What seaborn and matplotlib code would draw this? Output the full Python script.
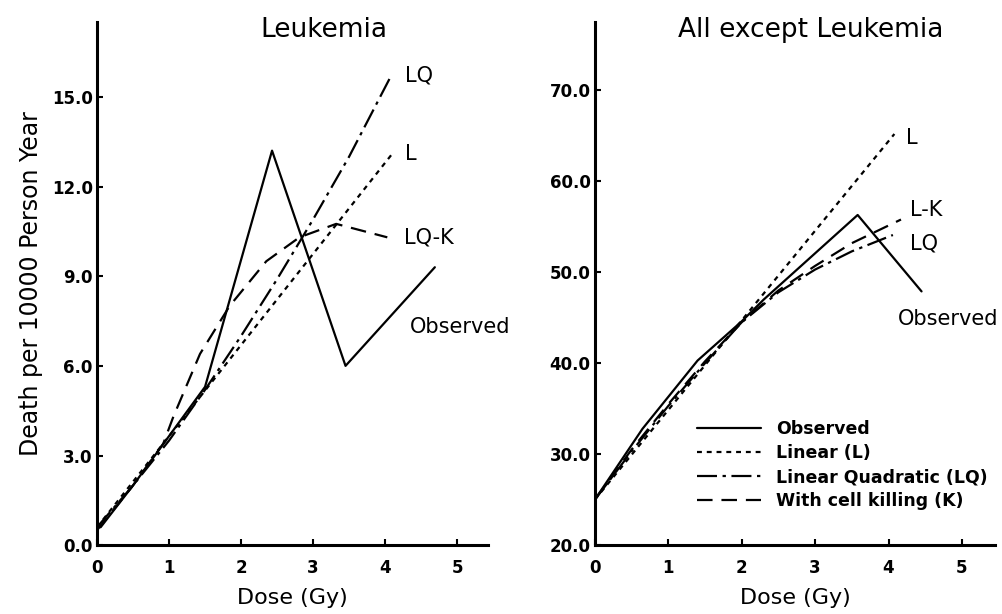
import seaborn as sns
import matplotlib.pyplot as plt
import pandas as pd
from matplotlib.ticker import FormatStrFormatter

# ---- Leukemia panel ----
leuk_obs_dose = [0.05, 0.5, 1.5, 2.43, 3.45, 4.69]
leuk_obs = [0.6, 2.0, 5.3, 13.2, 6.0, 9.3]
leuk_l_dose = [0.0, 4.1]
leuk_l = [0.6, 13.1]
leuk_lq_dose = [0.0, 0.5, 1.0, 1.5, 2.0, 2.5, 3.0, 3.5, 4.06]
leuk_lq = [0.6, 2.0, 3.5, 5.2, 7.0, 8.9, 10.9, 13.0, 15.6]
leuk_k_dose = [0.0, 0.5, 0.92, 1.06, 1.43, 1.84, 2.35, 2.81, 3.32, 4.03]
leuk_k = [0.5, 2.0, 3.4, 4.3, 6.4, 8.0, 9.5, 10.3, 10.75, 10.3]

# ---- All except Leukemia panel ----
rest_obs_dose = [0.0, 0.65, 1.4, 2.0, 2.3, 3.58, 4.45]
rest_obs = [25.0, 32.8, 40.3, 44.6, 47.0, 56.3, 47.9]
rest_l_dose = [0.0, 4.08]
rest_l = [25.0, 65.2]
rest_lq_dose = [0.0, 0.5, 1.0, 1.5, 2.0, 2.5, 3.0, 3.5, 4.06]
rest_lq = [25.0, 30.3, 35.3, 40.0, 44.5, 47.8, 50.3, 52.3, 54.1]
rest_k_dose = [0.0, 0.5, 1.0, 1.5, 2.0, 2.5, 3.0, 3.5, 4.17]
rest_k = [25.0, 30.5, 35.5, 40.2, 44.5, 48.0, 50.7, 53.2, 55.8]

legend_labels = ["Observed", "Linear (L)", "Linear Quadratic (LQ)", "With cell killing (K)"]

sns.set_style("white")
plt.rcParams["font.family"] = ["DejaVu Sans"]
plt.rcParams["text.color"] = "black"
plt.rcParams["axes.labelcolor"] = "black"
plt.rcParams["xtick.color"] = "black"
plt.rcParams["ytick.color"] = "black"
plt.rcParams["axes.edgecolor"] = "black"

styles = {
    "obs": dict(linestyle="-", linewidth=1.6),
    "l": dict(linestyle=(0, (2.2, 2.2)), linewidth=1.6),
    "lq": dict(linestyle=(0, (9, 2.5, 1.5, 2.5)), linewidth=1.6),
    "k": dict(linestyle=(0, (7, 4)), linewidth=1.6),
}

fig = plt.figure(figsize=(10.03, 6.14), dpi=100)
ax1 = fig.add_axes([0.0967, 0.112, 0.39, 0.852])
ax2 = fig.add_axes([0.593, 0.112, 0.399, 0.852])


def draw(ax, series):
    for (x, y, key), lab in zip(series, legend_labels):
        df = pd.DataFrame({"dose": x, "val": y})
        sns.lineplot(data=df, x="dose", y="val", ax=ax, color="black",
                     label=lab, sort=False, estimator=None, **styles[key])


draw(ax1, [(leuk_obs_dose, leuk_obs, "obs"), (leuk_l_dose, leuk_l, "l"),
           (leuk_lq_dose, leuk_lq, "lq"), (leuk_k_dose, leuk_k, "k")])
draw(ax2, [(rest_obs_dose, rest_obs, "obs"), (rest_l_dose, rest_l, "l"),
           (rest_lq_dose, rest_lq, "lq"), (rest_k_dose, rest_k, "k")])

ax1.set_xlim(0, 5.43)
ax1.set_ylim(0, 17.5)
ax1.set_yticks([0, 3, 6, 9, 12, 15])
ax2.set_xlim(0, 5.45)
ax2.set_ylim(20, 77.5)
ax2.set_yticks([20, 30, 40, 50, 60, 70])

for ax in (ax1, ax2):
    sns.despine(ax=ax)
    ax.spines["left"].set_linewidth(2.2)
    ax.spines["bottom"].set_linewidth(2.2)
    ax.set_xticks([0, 1, 2, 3, 4, 5])
    ax.yaxis.set_major_formatter(FormatStrFormatter("%.1f"))
    ax.tick_params(direction="in", length=4, width=1.5, labelsize=12,
                   left=True, bottom=True)
    ax.tick_params(axis="x", pad=10)
    ax.tick_params(axis="y", pad=3)
    for t in ax.get_xticklabels() + ax.get_yticklabels():
        t.set_fontweight("bold")
    ax.set_xlabel("Dose (Gy)", fontsize=16, labelpad=8)
    ax.set_ylabel("")

ax1.set_ylabel("Death per 10000 Person Year", fontsize=17, labelpad=6)
ax1.get_legend().remove()

leg = ax2.legend(loc="upper left", bbox_to_anchor=(0.255, 0.24), frameon=False,
                 fontsize=12.5, handlelength=3.7, handletextpad=0.85,
                 labelspacing=0.36, borderpad=0, borderaxespad=0)
for t in leg.get_texts():
    t.set_fontweight("bold")

ax1.text(0.58, 1.01, "Leukemia", transform=ax1.transAxes, fontsize=19,
         ha="center", va="top")
ax2.text(0.54, 1.01, "All except Leukemia", transform=ax2.transAxes,
         fontsize=19, ha="center", va="top")

for x, y, s in [(4.28, 15.7, "LQ"), (4.28, 13.1, "L"), (4.26, 10.3, "LQ-K"),
                (4.35, 7.3, "Observed")]:
    ax1.text(x, y, s, fontsize=15, ha="left", va="center")
for x, y, s in [(4.24, 64.8, "L"), (4.29, 56.9, "L-K"), (4.29, 53.2, "LQ"),
                (4.13, 44.9, "Observed")]:
    ax2.text(x, y, s, fontsize=15, ha="left", va="center")

fig.savefig("out.png", dpi=100, facecolor="white")
